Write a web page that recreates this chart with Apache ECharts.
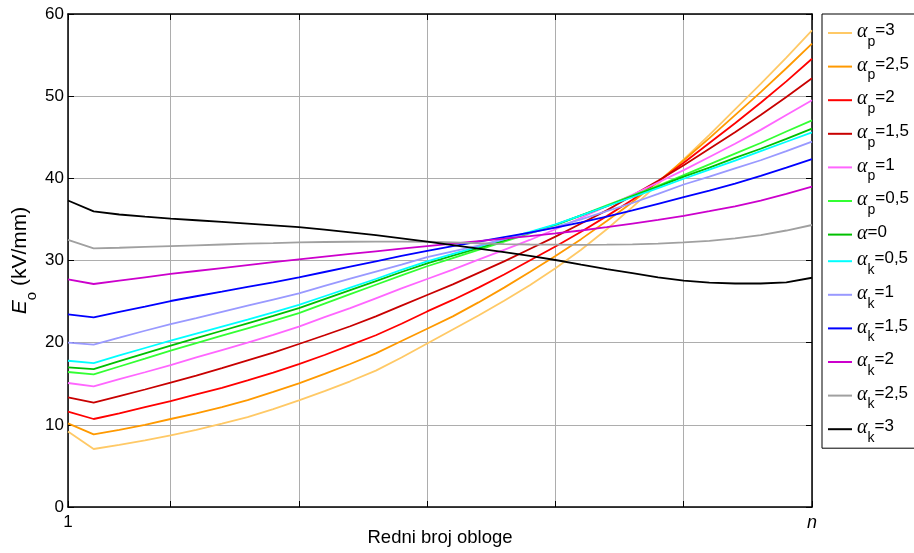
<!DOCTYPE html>
<html>
<head>
<meta charset="utf-8">
<script src="https://cdn.jsdelivr.net/npm/echarts@6/dist/echarts.min.js"></script>
<style>
  html, body { margin: 0; padding: 0; background: #fff; }
  #chart { width: 914px; height: 553px; }
</style>
</head>
<body>
<div id="chart"></div>
<script>
// redni broj obloge 1..n (n = 30)
const xs = [1, 2, 3, 4, 5, 6, 7, 8, 9, 10, 11, 12, 13, 14, 15, 16, 17, 18, 19, 20, 21, 22, 23, 24, 25, 26, 27, 28, 29, 30];

// E_o (kV/mm) za svaku krivu
const ap30 = [9.2, 7.06, 7.55, 8.1, 8.72, 9.4, 10.15, 10.95, 11.9, 12.98, 14.1, 15.3, 16.6, 18.2, 19.9, 21.6, 23.3, 25.1, 27.0, 29.05, 31.3, 33.8, 36.5, 39.3, 42.3, 45.3, 48.4, 51.5, 54.7, 58.0];
const ap25 = [10.18, 8.84, 9.4, 10.0, 10.71, 11.4, 12.15, 13.0, 14.0, 15.05, 16.2, 17.4, 18.7, 20.2, 21.7, 23.2, 24.9, 26.7, 28.6, 30.55, 32.6, 34.8, 37.1, 39.6, 42.2, 44.9, 47.7, 50.5, 53.4, 56.4];
const ap20 = [11.6, 10.71, 11.4, 12.15, 12.9, 13.7, 14.5, 15.4, 16.35, 17.4, 18.5, 19.7, 20.9, 22.3, 23.8, 25.2, 26.7, 28.3, 30.0, 31.7, 33.5, 35.4, 37.4, 39.6, 41.9, 44.3, 46.7, 49.2, 51.8, 54.55];
const ap15 = [13.35, 12.7, 13.5, 14.3, 15.13, 16.0, 16.9, 17.85, 18.8, 19.84, 20.9, 22.0, 23.2, 24.5, 25.8, 27.1, 28.5, 29.9, 31.4, 32.9, 34.5, 36.1, 37.9, 39.7, 41.6, 43.6, 45.6, 47.7, 49.9, 52.17];
const ap10 = [15.09, 14.69, 15.55, 16.4, 17.28, 18.2, 19.1, 20.0, 20.95, 21.96, 23.1, 24.2, 25.4, 26.6, 27.75, 28.9, 30.1, 31.3, 32.5, 33.8, 35.2, 36.6, 38.0, 39.5, 41.0, 42.6, 44.2, 45.9, 47.7, 49.5];
const ap05 = [16.43, 16.15, 17.1, 18.05, 19.02, 19.95, 20.85, 21.75, 22.65, 23.6, 24.75, 25.9, 27.05, 28.2, 29.3, 30.3, 31.3, 32.3, 33.3, 34.3, 35.5, 36.7, 37.9, 39.1, 40.4, 41.7, 43.0, 44.3, 45.7, 47.05];
const a0   = [17.0, 16.79, 17.75, 18.7, 19.63, 20.55, 21.45, 22.35, 23.25, 24.2, 25.3, 26.4, 27.5, 28.6, 29.65, 30.6, 31.5, 32.45, 33.4, 34.35, 35.5, 36.6, 37.8, 39.0, 40.2, 41.3, 42.5, 43.6, 44.8, 46.05];
const ak05 = [17.8, 17.52, 18.45, 19.35, 20.24, 21.1, 21.95, 22.8, 23.7, 24.6, 25.65, 26.7, 27.75, 28.85, 29.9, 30.8, 31.7, 32.6, 33.5, 34.4, 35.5, 36.6, 37.7, 38.8, 39.95, 41.05, 42.15, 43.3, 44.45, 45.6];
const ak10 = [20.0, 19.76, 20.6, 21.45, 22.27, 23.0, 23.75, 24.5, 25.25, 26.0, 26.9, 27.8, 28.65, 29.5, 30.4, 31.1, 31.8, 32.6, 33.35, 34.1, 35.0, 36.0, 37.0, 38.1, 39.25, 40.2, 41.2, 42.2, 43.3, 44.46];
const ak15 = [23.45, 23.08, 23.75, 24.4, 25.07, 25.65, 26.2, 26.8, 27.35, 27.95, 28.6, 29.25, 29.9, 30.55, 31.18, 31.75, 32.3, 32.85, 33.4, 34.0, 34.65, 35.35, 36.1, 36.9, 37.7, 38.5, 39.35, 40.3, 41.3, 42.35];
const ak20 = [27.7, 27.14, 27.55, 27.95, 28.36, 28.72, 29.08, 29.44, 29.8, 30.14, 30.47, 30.8, 31.12, 31.44, 31.75, 32.05, 32.35, 32.65, 32.97, 33.3, 33.65, 34.05, 34.5, 34.95, 35.43, 36.0, 36.6, 37.3, 38.1, 38.98];
const ak25 = [32.5, 31.48, 31.55, 31.65, 31.75, 31.85, 31.95, 32.05, 32.12, 32.2, 32.25, 32.28, 32.3, 32.3, 32.28, 32.2, 32.1, 32.0, 31.95, 31.92, 31.9, 31.92, 31.97, 32.05, 32.2, 32.4, 32.7, 33.1, 33.65, 34.32];
const ak30 = [37.3, 35.98, 35.6, 35.33, 35.1, 34.9, 34.7, 34.5, 34.28, 34.05, 33.75, 33.42, 33.08, 32.7, 32.3, 31.88, 31.45, 31.02, 30.55, 30.06, 29.5, 28.95, 28.45, 27.95, 27.55, 27.3, 27.2, 27.2, 27.35, 27.9];

// legenda: indeks (p / k / bez) i vrijednost
const legendSubs = ['p', 'p', 'p', 'p', 'p', 'p', '', 'k', 'k', 'k', 'k', 'k', 'k'];
const legendVals = ['3', '2,5', '2', '1,5', '1', '0,5', '0', '0,5', '1', '1,5', '2', '2,5', '3'];
const colors = ['#ffc966', '#ff9900', '#ff0000', '#c80000', '#ff66ff', '#33ff33', '#00c000',
                '#00ffff', '#9999ff', '#0000ff', '#cc00cc', '#a0a0a0', '#000000'];
const allData = [ap30, ap25, ap20, ap15, ap10, ap05, a0, ak05, ak10, ak15, ak20, ak25, ak30];

// x tick positions and labels
const xTicks = [1, 5, 10, 15, 20, 25, 30];
const xLabels = [1, 30];

const names = legendSubs.map((s, i) => 'α' + s + '=' + legendVals[i]);

const chart = echarts.init(document.getElementById('chart'));

const series = allData.map((vals, i) => ({
  name: names[i],
  type: 'line',
  data: xs.map((x, j) => [x, vals[j]]),
  symbol: 'none',
  showSymbol: false,
  smooth: false,
  lineStyle: { color: colors[i], width: 1.8 },
  itemStyle: { color: colors[i] },
  emphasis: { disabled: true },
  animation: false
}));

const gridColor = '#adadad';
const fontFamily = '"Liberation Sans", Arial, sans-serif';

const option = {
  animation: false,
  textStyle: { fontFamily },
  grid: { left: 68, right: 102, top: 14, bottom: 46, containLabel: false, outerBoundsMode: 'none' },
  legend: {
    orient: 'vertical',
    left: 822,
    top: 14,
    padding: [8, 8, 3, 6],
    itemGap: 6.6,
    itemWidth: 24,
    itemHeight: 2,
    icon: 'rect',
    borderColor: '#000',
    borderWidth: 1,
    backgroundColor: '#fff',
    data: names,
    selectedMode: false,
    formatter: function (name) {
      const i = names.indexOf(name);
      if (legendSubs[i]) {
        return '{a|α}{s|' + legendSubs[i] + '}{t|=' + legendVals[i] + '}';
      }
      return '{a|α}{t|=' + legendVals[i] + '}';
    },
    textStyle: {
      color: '#000',
      rich: {
        a: { fontFamily: '"Liberation Serif", serif', fontStyle: 'italic', fontSize: 20, lineHeight: 22, verticalAlign: 'top', color: '#000' },
        s: { fontFamily, fontSize: 14, lineHeight: 14, padding: [13, 0, 0, 0], verticalAlign: 'top', color: '#000' },
        t: { fontFamily, fontSize: 17, lineHeight: 22, verticalAlign: 'top', color: '#000' }
      }
    }
  },
  xAxis: [
    {
      type: 'value',
      min: 1,
      max: 30,
      position: 'bottom',
      name: 'Redni broj obloge',
      nameLocation: 'middle',
      nameGap: 21,
      nameMoveOverlap: false,
      nameTextStyle: { fontSize: 18.5, color: '#000', fontFamily },
      axisLine: { show: true, onZero: false, lineStyle: { color: '#000', width: 1.5 } },
      axisTick: { show: true, inside: true, length: 6, customValues: xTicks, lineStyle: { color: '#000' } },
      axisLabel: {
        show: true,
        customValues: xLabels,
        margin: 7,
        fontSize: 17,
        color: '#000',
        formatter: v => (v === 30 ? '{n|n}' : String(v)),
        rich: { n: { fontStyle: 'italic', fontSize: 18, fontFamily, color: '#000' } }
      },
      splitLine: { show: true, lineStyle: { color: gridColor, width: 1 } }
    },
    {
      type: 'value',
      min: 1,
      max: 30,
      position: 'top',
      axisLine: { show: true, onZero: false, lineStyle: { color: '#000', width: 1.5 } },
      axisTick: { show: true, inside: true, length: 6, customValues: xTicks, lineStyle: { color: '#000' } },
      axisLabel: { show: false },
      splitLine: { show: false }
    }
  ],
  yAxis: [
    {
      type: 'value',
      min: 0,
      max: 60,
      interval: 10,
      position: 'left',
      name: '{e|E}{o|o}{u| (kV/mm)}',
      nameLocation: 'middle',
      nameRotate: 90,
      nameGap: 34,
      nameMoveOverlap: false,
      nameTextStyle: {
        color: '#000',
        rich: {
          e: { fontFamily, fontStyle: 'italic', fontSize: 21, lineHeight: 24, verticalAlign: 'top', color: '#000' },
          o: { fontFamily, fontSize: 15, lineHeight: 15, padding: [14, 0, 0, 0], verticalAlign: 'top', color: '#000' },
          u: { fontFamily, fontSize: 21, lineHeight: 24, verticalAlign: 'top', color: '#000' }
        }
      },
      axisLine: { show: true, onZero: false, lineStyle: { color: '#000', width: 1.5 } },
      axisTick: { show: true, inside: true, length: 6, lineStyle: { color: '#000' } },
      axisLabel: { show: true, margin: 4, fontSize: 17, color: '#000' },
      splitLine: { show: true, lineStyle: { color: gridColor, width: 1 } }
    },
    {
      type: 'value',
      min: 0,
      max: 60,
      interval: 10,
      position: 'right',
      axisLine: { show: true, onZero: false, lineStyle: { color: '#000', width: 1.5 } },
      axisTick: { show: true, inside: true, length: 6, lineStyle: { color: '#000' } },
      axisLabel: { show: false },
      splitLine: { show: false }
    }
  ],
  series
};

chart.setOption(option);
</script>
</body>
</html>
